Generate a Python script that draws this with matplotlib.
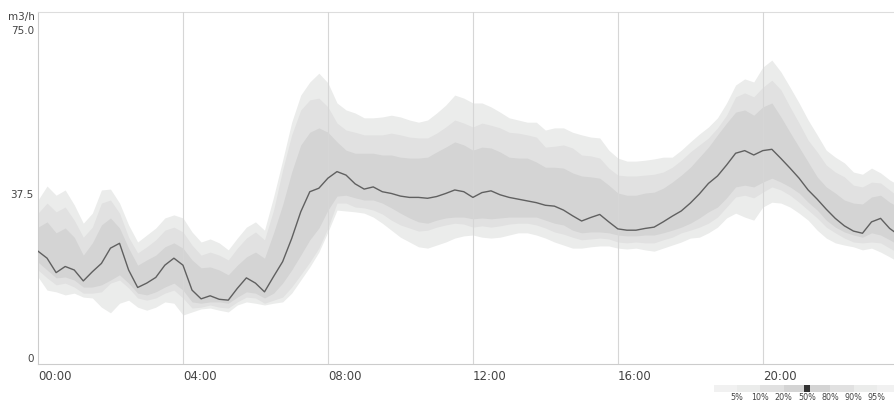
import numpy as np
import matplotlib
matplotlib.use("Agg")
import matplotlib.pyplot as plt

# Flow percentiles over one day, 15-minute steps (m3/h)
hours = np.arange(96) * 0.25

p50 = [25.8, 24.2, 20.9, 22.3, 21.5, 19.0, 21.1, 23.0, 26.5, 27.6,
       21.5, 17.5, 18.5, 19.8, 22.6, 24.2, 22.6, 16.9, 14.9, 15.6,
       14.8, 14.6, 17.3, 19.7, 18.5, 16.5, 20.0, 23.4, 28.7, 34.8,
       39.4, 40.2, 42.5, 44.0, 43.2, 41.2, 40.0, 40.5, 39.4, 39.0,
       38.4, 38.1, 38.1, 37.9, 38.3, 39.0, 39.8, 39.4, 38.1, 39.2,
       39.6, 38.7, 38.1, 37.7, 37.3, 36.9, 36.3, 36.1, 35.2, 33.9,
       32.7, 33.5, 34.2, 32.5, 30.9, 30.6, 30.6, 31.0, 31.3, 32.5,
       33.8, 35.0, 36.8, 38.9, 41.3, 43.0, 45.5, 48.2, 48.8, 47.8,
       48.8, 49.1, 47.0, 44.8, 42.5, 39.8, 37.7, 35.4, 33.3, 31.6,
       30.4, 29.9, 32.5, 33.3, 31.0, 29.5]

p95 = [37.5, 40.7, 38.6, 39.8, 36.4, 32.2, 34.5, 39.8, 40.0, 36.8,
       31.8, 27.9, 29.5, 31.1, 33.4, 34.1, 33.4, 30.2, 27.9, 28.6,
       27.7, 26.1, 28.8, 31.3, 32.5, 30.6, 38.2, 46.6, 55.3, 61.5,
       64.5, 66.5, 64.3, 59.7, 58.1, 57.4, 56.3, 56.3, 56.5, 56.9,
       56.5, 55.8, 55.3, 55.8, 57.4, 59.2, 61.5, 60.8, 59.7, 59.7,
       58.8, 57.6, 56.3, 55.8, 55.3, 55.3, 53.5, 54.0, 54.0, 53.0,
       52.4, 51.9, 51.7, 48.9, 47.1, 46.4, 46.4, 46.6, 46.9, 47.3,
       47.3, 48.9, 50.8, 52.6, 54.2, 56.3, 59.7, 63.8, 65.2, 64.5,
       67.9, 69.5, 66.8, 63.3, 59.7, 55.8, 52.4, 48.9, 47.3, 46.0,
       43.9, 43.4, 44.8, 43.7, 42.1, 40.9]

p90 = [34.5, 36.8, 34.8, 35.9, 32.9, 29.0, 31.3, 36.8, 37.5, 34.5,
       29.0, 25.4, 26.8, 28.4, 30.6, 31.3, 30.2, 27.2, 24.9, 25.6,
       24.9, 23.8, 26.5, 28.8, 30.2, 28.4, 35.2, 44.4, 52.4, 58.1,
       60.4, 60.8, 58.8, 55.1, 53.5, 53.0, 52.4, 52.4, 52.4, 52.8,
       52.4, 51.9, 51.7, 51.7, 52.8, 54.2, 55.8, 55.1, 54.2, 55.1,
       54.6, 54.0, 53.0, 52.8, 52.4, 51.9, 49.6, 49.8, 50.1, 49.4,
       47.8, 47.6, 47.1, 44.8, 43.2, 43.0, 43.0, 43.2, 43.4, 43.9,
       45.0, 46.6, 48.5, 50.1, 51.7, 54.0, 56.9, 61.1, 62.0, 61.1,
       63.3, 64.9, 62.7, 58.8, 55.1, 51.2, 48.5, 45.5, 43.9, 42.8,
       40.9, 40.5, 41.6, 41.4, 39.8, 38.2]

p80 = [31.3, 32.5, 30.0, 31.1, 29.0, 24.9, 27.7, 31.8, 33.4, 31.1,
       26.5, 22.6, 23.8, 24.9, 26.8, 27.7, 26.5, 23.8, 22.0, 22.2,
       21.5, 20.4, 22.6, 24.5, 25.6, 24.2, 30.0, 36.4, 43.9, 50.1,
       53.0, 54.0, 53.0, 50.8, 48.9, 48.2, 48.2, 48.2, 47.8, 47.8,
       47.3, 47.1, 47.1, 47.3, 48.5, 49.6, 50.8, 50.1, 48.9, 49.6,
       49.4, 48.5, 47.3, 47.1, 47.1, 46.2, 45.0, 45.0, 44.8, 43.7,
       43.0, 42.8, 42.5, 40.9, 39.1, 38.6, 38.6, 39.1, 39.3, 40.2,
       41.6, 43.2, 45.0, 47.3, 49.6, 52.4, 55.1, 57.6, 58.1, 56.9,
       58.8, 59.7, 56.5, 53.0, 49.6, 46.2, 42.8, 40.5, 39.1, 37.5,
       36.8, 36.6, 38.2, 38.6, 37.0, 35.9]

p20 = [23.3, 21.5, 19.7, 19.9, 19.2, 17.6, 17.6, 18.1, 19.2, 20.4,
       18.5, 16.2, 15.8, 16.5, 17.6, 18.5, 16.9, 14.2, 13.9, 14.2,
       14.2, 13.9, 15.3, 16.5, 16.2, 15.1, 16.2, 18.5, 21.5, 24.9,
       28.4, 31.1, 35.2, 38.4, 38.6, 38.0, 37.5, 37.5, 36.8, 35.7,
       34.5, 33.4, 32.5, 32.2, 32.9, 33.4, 33.6, 33.6, 33.2, 33.4,
       33.2, 33.4, 33.6, 33.6, 33.6, 33.6, 32.9, 32.2, 31.8, 30.6,
       30.0, 30.2, 30.2, 30.0, 29.5, 29.3, 29.3, 29.5, 29.5, 30.0,
       30.6, 31.3, 32.2, 33.4, 34.8, 35.9, 38.0, 40.5, 40.9, 40.5,
       41.6, 42.5, 41.6, 40.5, 39.1, 37.0, 35.2, 32.9, 31.3, 30.2,
       29.5, 29.0, 30.0, 29.5, 28.4, 27.2]

p10 = [21.5, 19.7, 18.1, 18.5, 17.6, 16.2, 16.2, 16.5, 18.5, 19.2,
       17.4, 15.1, 14.6, 15.1, 16.2, 16.9, 15.1, 12.8, 13.0, 13.5,
       13.0, 12.8, 14.2, 15.3, 15.1, 13.9, 14.6, 15.3, 17.6, 20.4,
       23.3, 26.5, 31.1, 36.8, 36.8, 35.9, 35.7, 35.2, 34.3, 32.9,
       31.8, 31.1, 30.4, 30.6, 31.3, 31.8, 32.2, 32.0, 31.3, 31.6,
       31.3, 31.6, 32.0, 32.2, 32.2, 31.8, 31.1, 30.2, 29.7, 29.0,
       28.4, 28.6, 28.8, 28.6, 27.9, 27.7, 27.9, 27.7, 27.7, 28.4,
       29.0, 30.0, 30.6, 31.3, 32.2, 33.6, 35.9, 38.2, 38.6, 38.0,
       39.3, 40.5, 39.8, 38.6, 37.0, 35.2, 33.4, 31.3, 30.0, 28.8,
       27.9, 27.7, 27.9, 27.7, 26.5, 25.4]

p5 = [19.9, 16.9, 16.5, 15.8, 16.2, 15.3, 15.1, 13.0, 11.7, 13.9,
      14.6, 13.0, 12.3, 13.0, 14.2, 13.9, 11.2, 11.9, 12.6, 12.8,
      12.3, 11.9, 13.5, 14.2, 13.9, 13.5, 13.9, 14.2, 16.2, 19.2,
      22.2, 25.6, 30.2, 35.2, 35.0, 34.8, 34.5, 33.6, 32.2, 30.6,
      29.0, 27.9, 26.8, 26.5, 27.2, 27.9, 28.8, 29.3, 29.5, 29.0,
      28.8, 29.0, 29.5, 30.0, 30.0, 29.5, 28.8, 27.9, 27.2, 26.5,
      26.5, 26.8, 27.0, 27.0, 26.5, 26.3, 26.5, 26.1, 25.8, 26.5,
      27.2, 27.9, 28.8, 29.0, 30.0, 31.3, 33.4, 34.5, 33.6, 32.9,
      35.9, 37.0, 36.8, 35.9, 34.5, 32.9, 30.6, 28.8, 27.7, 27.2,
      26.8, 26.1, 26.5, 25.6, 24.5, 23.3]

tick_hours = [0, 4, 8, 12, 16, 20]
tick_labels = ['00:00', '04:00', '08:00', '12:00', '16:00', '20:00']
y_ticks = [0, 37.5, 75]
y_labels = ['0', '37.5', '75.0']
legend_labels = ['5%', '10%', '20%', '50%', '80%', '90%', '95%']

c_outer = '#ebeceb'
c_mid = '#e1e1e1'
c_inner = '#d4d4d4'
text_col = '#444444'

W, H = 894, 404
fig = plt.figure(figsize=(W / 100, H / 100), dpi=100)
ax = fig.add_axes([38 / W, 40 / H, (W - 38) / W, 352 / H])

ax.fill_between(hours, p5, p95, color=c_outer, lw=0)
ax.fill_between(hours, p10, p90, color=c_mid, lw=0)
ax.fill_between(hours, p20, p80, color=c_inner, lw=0)
ax.plot(hours, p50, color='#606060', lw=1.0, zorder=4)

for h in tick_hours[1:]:
    ax.axvline(h, color='#d6d6d6', lw=0.8, zorder=3)

ax.set_xlim(0, 23.62)
ax.set_ylim(0, 80.5)

ax.set_xticks(tick_hours)
ax.set_xticklabels(tick_labels, ha='left', fontsize=8.5, color=text_col)
ax.set_yticks(y_ticks)
ax.set_yticklabels(y_labels, va='bottom', fontsize=7.5, color=text_col)
ax.tick_params(axis='both', length=0)
ax.tick_params(axis='x', pad=4)
ax.tick_params(axis='y', pad=3)

for side in ['left', 'bottom']:
    ax.spines[side].set_color('#cccccc')
    ax.spines[side].set_linewidth(0.8)
ax.spines['top'].set_color('#dddddd')
ax.spines['top'].set_linewidth(0.8)
ax.spines['right'].set_visible(False)

fig.text(35 / W, 1 - 17 / H, 'm3/h', ha='right', va='center',
         fontsize=7.5, color=text_col)

# percentile legend strip
seg_w = 23.3
seg_colors = ['#f1f1f1', c_outer, c_mid, c_inner, c_inner, c_mid, c_outer, '#f1f1f1']
lax = fig.add_axes([713.7 / W, 12.5 / H, 8 * seg_w / W, 6.5 / H])
for i, c in enumerate(seg_colors):
    lax.barh(0, 1, left=i, height=1, color=c, lw=0)
lax.barh(0, 0.25, left=3.88, height=1, color='#333333', lw=0)
lax.set_xlim(0, 8)
lax.set_ylim(-0.5, 0.5)
lax.axis('off')
for i, lab in enumerate(legend_labels):
    fig.text((713.7 + (i + 1) * seg_w) / W, 1.5 / H, lab, ha='center',
             va='bottom', fontsize=5.8, color=text_col)

fig.savefig('out.png', dpi=100)
